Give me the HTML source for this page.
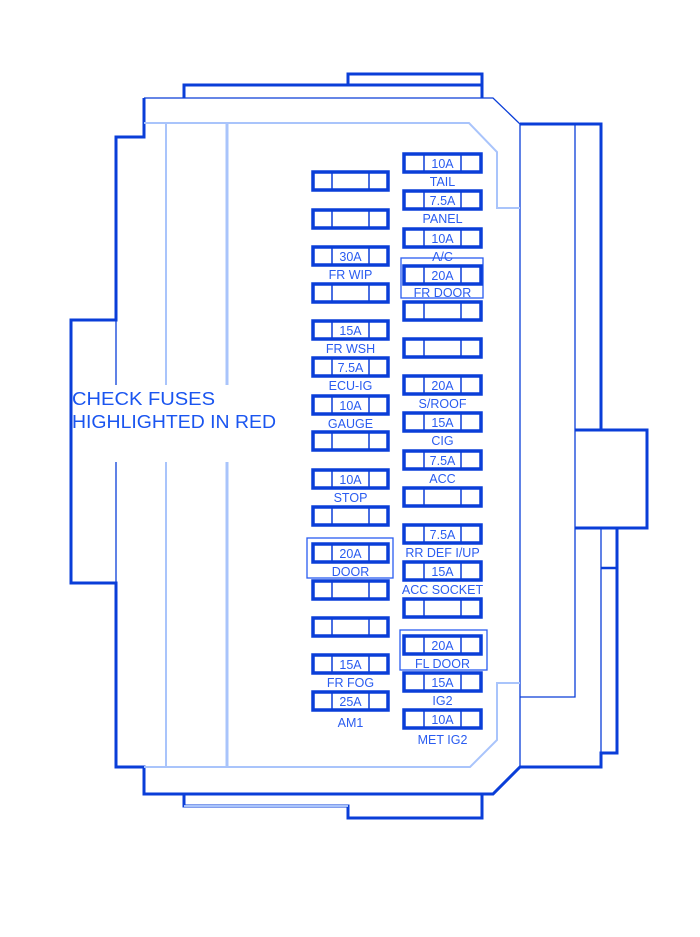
<!DOCTYPE html>
<html><head><meta charset="utf-8"><style>
html,body{margin:0;padding:0;background:#fff;}
svg{display:block;}
text{font-family:"Liberation Sans",sans-serif;font-size:12.5px;fill:#2a5cf0;text-anchor:middle;}
</style></head><body>
<svg width="700" height="937" viewBox="0 0 700 937" xmlns="http://www.w3.org/2000/svg">
<defs>
<g id="fl"><rect x="313" y="0" width="75" height="18" stroke="#0a3ed8" stroke-width="3.5" fill="none"/><line x1="332" y1="0" x2="332" y2="18" stroke="#0a3ed8" stroke-width="1.5"/><line x1="369" y1="0" x2="369" y2="18" stroke="#0a3ed8" stroke-width="1.5"/></g>
<g id="fr"><rect x="404" y="0" width="77" height="18" stroke="#0a3ed8" stroke-width="3.5" fill="none"/><line x1="424" y1="0" x2="424" y2="18" stroke="#0a3ed8" stroke-width="1.5"/><line x1="461" y1="0" x2="461" y2="18" stroke="#0a3ed8" stroke-width="1.5"/></g>
</defs>
<g fill="none" stroke="#0a3ed8" stroke-width="3">
  <polyline points="184,98 184,85 348,85 348,74 482,74 482,98"/>
  <line x1="348" y1="85" x2="482" y2="85"/>
  <polyline points="184,794 184,806 348,806 348,818 482,818 482,794"/>
  <polyline points="144,98 144,137 116,137 116,320 71,320 71,583 116,583 116,767 144,767 144,794 493,794 520,767 601,767 601,753 617,753 617,528 575,528"/>
  <polyline points="575,430 647,430 647,528 617,528"/>
  <polyline points="520,124 601,124 601,430"/>
</g>
<g fill="none" stroke="#0a3ed8" stroke-width="1.3">
  <polyline points="144,98 493,98 520,124 520,767"/>
  <polyline points="575,124 575,697 520,697"/>
  <line x1="601" y1="528" x2="601" y2="767"/>
  <line x1="601" y1="568" x2="617" y2="568" stroke-width="2.5"/>
  <line x1="116" y1="320" x2="116" y2="385"/>
  <line x1="116" y1="462" x2="116" y2="583"/>
</g>
<g fill="none" stroke="#a9c4fb" stroke-width="2">
  <polyline points="144,123 469,123 497,152 497,208 520,208"/>
  <polyline points="144,767 470,767 497,740 497,683 520,683"/>
  <line x1="166" y1="123" x2="166" y2="385"/>
  <line x1="166" y1="462" x2="166" y2="767"/>
  <line x1="227" y1="123" x2="227" y2="385" stroke-width="3"/>
  <line x1="227" y1="462" x2="227" y2="767" stroke-width="3"/>
  <line x1="184" y1="806" x2="348" y2="806"/>
</g>
<text x="72" y="405" style="font-size:18px;text-anchor:start;fill:#1a55f0" textLength="143" lengthAdjust="spacingAndGlyphs">CHECK FUSES</text>
<text x="72" y="428" style="font-size:18px;text-anchor:start;fill:#1a55f0" textLength="204" lengthAdjust="spacingAndGlyphs">HIGHLIGHTED IN RED</text>
<g fill="none" stroke="#2a5cf0" stroke-width="1.3">
  <rect x="401" y="258" width="82" height="40"/>
  <rect x="307" y="538" width="86" height="40"/>
  <rect x="400" y="630" width="87" height="40"/>
</g>
<use href="#fl" y="172"/><use href="#fl" y="210"/>
<use href="#fl" y="247"/><text x="350.5" y="261">30A</text><text x="350.5" y="279">FR WIP</text>
<use href="#fl" y="284"/>
<use href="#fl" y="321"/><text x="350.5" y="335">15A</text><text x="350.5" y="353">FR WSH</text>
<use href="#fl" y="358"/><text x="350.5" y="372">7.5A</text><text x="350.5" y="390">ECU-IG</text>
<use href="#fl" y="396"/><text x="350.5" y="410">10A</text><text x="350.5" y="428">GAUGE</text>
<use href="#fl" y="432"/>
<use href="#fl" y="470"/><text x="350.5" y="484">10A</text><text x="350.5" y="502">STOP</text>
<use href="#fl" y="507"/>
<use href="#fl" y="544"/><text x="350.5" y="558">20A</text><text x="350.5" y="576">DOOR</text>
<use href="#fl" y="581"/><use href="#fl" y="618"/>
<use href="#fl" y="655"/><text x="350.5" y="669">15A</text><text x="350.5" y="687">FR FOG</text>
<use href="#fl" y="692"/><text x="350.5" y="706">25A</text><text x="350.5" y="727">AM1</text>
<use href="#fr" y="154"/><text x="442.5" y="168">10A</text><text x="442.5" y="186">TAIL</text>
<use href="#fr" y="191"/><text x="442.5" y="205">7.5A</text><text x="442.5" y="223">PANEL</text>
<use href="#fr" y="229"/><text x="442.5" y="243">10A</text><text x="442.5" y="261">A/C</text>
<use href="#fr" y="266"/><text x="442.5" y="280">20A</text><text x="442.5" y="297">FR DOOR</text>
<use href="#fr" y="302"/><use href="#fr" y="339"/>
<use href="#fr" y="376"/><text x="442.5" y="390">20A</text><text x="442.5" y="408">S/ROOF</text>
<use href="#fr" y="413"/><text x="442.5" y="427">15A</text><text x="442.5" y="445">CIG</text>
<use href="#fr" y="451"/><text x="442.5" y="465">7.5A</text><text x="442.5" y="483">ACC</text>
<use href="#fr" y="488"/>
<use href="#fr" y="525"/><text x="442.5" y="539">7.5A</text><text x="442.5" y="557">RR DEF I/UP</text>
<use href="#fr" y="562"/><text x="442.5" y="576">15A</text><text x="442.5" y="594">ACC SOCKET</text>
<use href="#fr" y="599"/>
<use href="#fr" y="636"/><text x="442.5" y="650">20A</text><text x="442.5" y="668">FL DOOR</text>
<use href="#fr" y="673"/><text x="442.5" y="687">15A</text><text x="442.5" y="705">IG2</text>
<use href="#fr" y="710"/><text x="442.5" y="724">10A</text><text x="442.5" y="744">MET IG2</text>
</svg>
</body></html>
